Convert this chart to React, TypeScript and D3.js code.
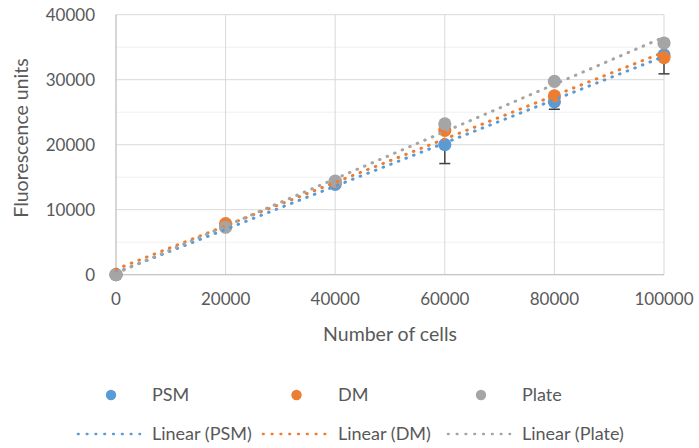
import React from 'react';
import * as d3 from 'd3';

const cells = [0, 20000, 40000, 60000, 80000, 100000];
const psm = [0, 7400, 13900, 20000, 26600, 33800];
const psmErr = [0, 300, 300, 2900, 1150, 2900];
const dm = [0, 7850, 14300, 22200, 27500, 33400];
const plate = [0, 7300, 14400, 23200, 29750, 35650];
const seriesNames = ['PSM', 'DM', 'Plate'];
const seriesColors = ['#5B9BD5', '#ED7D31', '#A5A5A5'];
const xTicks = [0, 20000, 40000, 60000, 80000, 100000];
const yTicks = [0, 10000, 20000, 30000, 40000];
const yMinor = [5000, 15000, 25000, 35000];
const xTitle = 'Number of cells';
const yTitle = 'Fluorescence units';

const W = 699;
const H = 448;
const FONT = 'Lato, "Open Sans", sans-serif';
const TEXT = '#595959';

function linreg(xs: number[], ys: number[]) {
  const mx = d3.mean(xs) as number;
  const my = d3.mean(ys) as number;
  let sxy = 0;
  let sxx = 0;
  xs.forEach((x, i) => {
    sxy += (x - mx) * (ys[i] - my);
    sxx += (x - mx) * (x - mx);
  });
  const slope = sxy / sxx;
  return { slope, intercept: my - slope * mx };
}

export default function App() {
  const x = d3.scaleLinear().domain([0, 100000]).range([116, 664]);
  const y = d3.scaleLinear().domain([0, 40000]).range([274.7, 14.7]);
  const allSeries = [psm, dm, plate];
  const line = d3
    .line<[number, number]>()
    .x((d) => x(d[0]))
    .y((d) => y(d[1]));
  const dotStyle = { strokeWidth: 3, strokeDasharray: '0.6 7.6', strokeLinecap: 'round' as const, fill: 'none' };

  const legendCols = [
    { sym: [78, 140], text: 152 },
    { sym: [263, 326], text: 338 },
    { sym: [448, 510], text: 522 },
  ];

  return (
    <svg width={W} height={H} style={{ position: 'absolute', left: 0, top: 0, background: '#fff' }} fontFamily={FONT}>
      <rect width={W} height={H} fill="#fff" />
      {yMinor.map((t) => (
        <line key={'m' + t} x1={x(0)} x2={x(100000)} y1={y(t)} y2={y(t)} stroke="#F0F0F0" strokeWidth={1} />
      ))}
      {yTicks.map((t) => (
        <line key={'h' + t} x1={x(0)} x2={x(100000)} y1={y(t)} y2={y(t)} stroke="#D9D9D9" strokeWidth={1} />
      ))}
      {xTicks.map((t) => (
        <line key={'v' + t} x1={x(t)} x2={x(t)} y1={y(0)} y2={y(40000)} stroke="#D9D9D9" strokeWidth={1} />
      ))}
      <line x1={x(0)} x2={x(0)} y1={y(0)} y2={y(40000)} stroke="#BFBFBF" strokeWidth={1} />
      <line x1={x(0)} x2={x(100000)} y1={y(0)} y2={y(0)} stroke="#BFBFBF" strokeWidth={1} />

      {yTicks.map((t) => (
        <text key={'yl' + t} x={95} y={y(t)} dy="0.35em" textAnchor="end" fontSize={17} fill={TEXT}>
          {t}
        </text>
      ))}
      {xTicks.map((t) => (
        <text key={'xl' + t} x={x(t)} y={305} textAnchor="middle" fontSize={17} fill={TEXT}>
          {t}
        </text>
      ))}
      <text x={390} y={341} textAnchor="middle" fontSize={19.5} fill={TEXT}>
        {xTitle}
      </text>
      <text transform={`translate(28,138) rotate(-90)`} textAnchor="middle" fontSize={19.5} fill={TEXT}>
        {yTitle}
      </text>

      {/* error bars for PSM (minus direction) */}
      {cells.map((c, i) =>
        psmErr[i] > 0 ? (
          <g key={'e' + i} stroke="#404040" strokeWidth={1.5}>
            <line x1={x(c)} x2={x(c)} y1={y(psm[i] - psmErr[i])} y2={y(psm[i])} />
            <line x1={x(c) - 5.5} x2={x(c) + 5.5} y1={y(psm[i] - psmErr[i])} y2={y(psm[i] - psmErr[i])} />
          </g>
        ) : null
      )}

      {allSeries.map((s, si) => (
        <g key={'s' + si}>
          {s.map((v, i) => (
            <circle key={i} cx={x(cells[i])} cy={y(v)} r={6.6} fill={seriesColors[si]} />
          ))}
        </g>
      ))}

      {allSeries.map((s, si) => {
        const r = linreg(cells, s);
        const pts: [number, number][] = [
          [0, r.intercept],
          [100000, r.intercept + r.slope * 100000],
        ];
        return <path key={'t' + si} d={line(pts) || ''} stroke={seriesColors[si]} {...dotStyle} />;
      })}

      {legendCols.map((c, i) => (
        <g key={'lg' + i}>
          <circle cx={(c.sym[0] + c.sym[1]) / 2 + 2} cy={395} r={5.2} fill={seriesColors[i]} />
          <text x={c.text} y={395} dy="0.35em" fontSize={18} fill={TEXT}>
            {seriesNames[i]}
          </text>
          <line x1={c.sym[0]} x2={c.sym[1]} y1={434} y2={434} stroke={seriesColors[i]} {...dotStyle} strokeDasharray="0.6 8.2" strokeWidth={2.6} />
          <text x={c.text} y={434} dy="0.35em" fontSize={18} fill={TEXT}>
            {`Linear (${seriesNames[i]})`}
          </text>
        </g>
      ))}
    </svg>
  );
}
